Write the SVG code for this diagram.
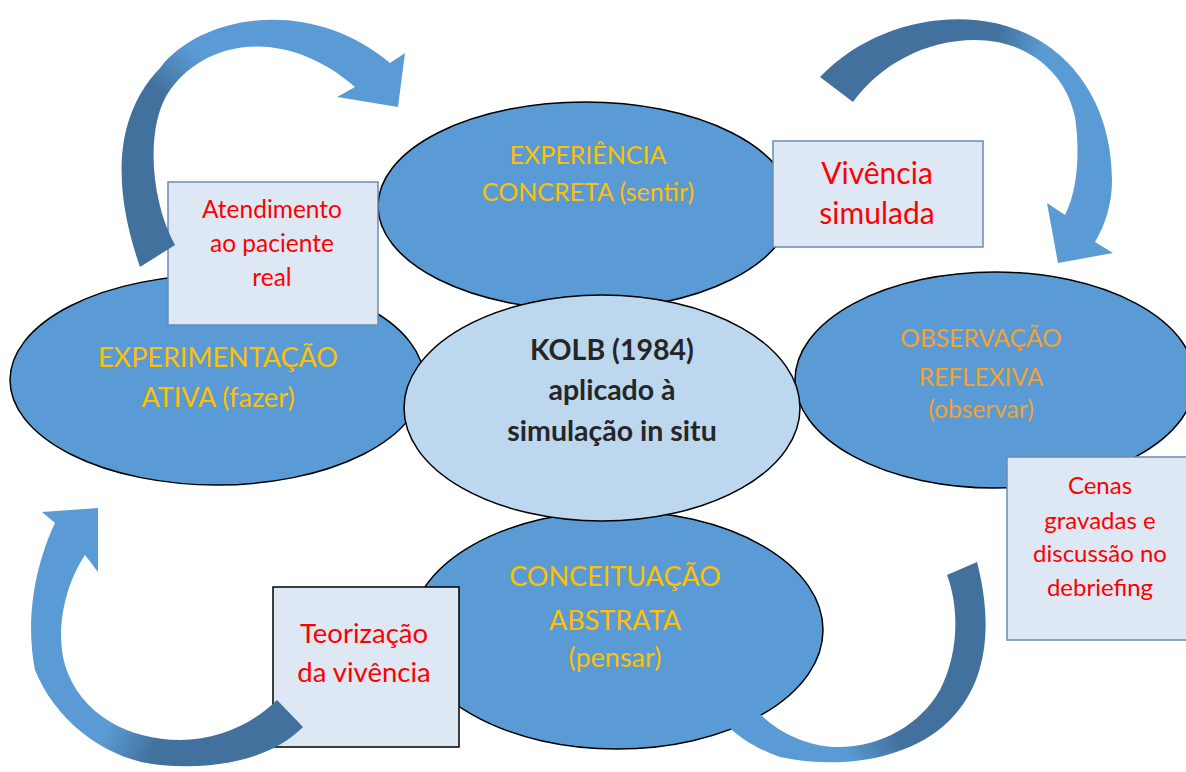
<svg xmlns="http://www.w3.org/2000/svg" width="1186" height="772" viewBox="0 0 1186 772">
<style>
.ell{fill:#5b9bd5;stroke:#000;stroke-width:1.5}
.ctr{fill:#bdd7ee;stroke:#000;stroke-width:1.5}
.box{fill:#dde8f4;stroke:#6a8bb5;stroke-width:1.5}
.boxk{fill:#dde8f4;stroke:#000;stroke-width:1.5}
.t{font-family:Lato,"Liberation Sans",sans-serif;text-anchor:middle}
.y{fill:#ffc000}
.o{fill:#f2a233}
.r{fill:#ff0000}
.k{fill:#262626;font-weight:bold}
</style>
<defs>
<linearGradient id="g1" gradientUnits="userSpaceOnUse" x1="150" y1="250" x2="330" y2="40">
<stop offset="0" stop-color="#41719c"/><stop offset="0.45" stop-color="#41719c"/><stop offset="0.65" stop-color="#5b9bd5"/><stop offset="1" stop-color="#5b9bd5"/>
</linearGradient>
<linearGradient id="g2" gradientUnits="userSpaceOnUse" x1="840" y1="80" x2="1100" y2="160">
<stop offset="0" stop-color="#41719c"/><stop offset="0.5" stop-color="#41719c"/><stop offset="0.68" stop-color="#5b9bd5"/><stop offset="1" stop-color="#5b9bd5"/>
</linearGradient>
<linearGradient id="g3" gradientUnits="userSpaceOnUse" x1="290" y1="715" x2="50" y2="600">
<stop offset="0" stop-color="#41719c"/><stop offset="0.4" stop-color="#41719c"/><stop offset="0.6" stop-color="#5b9bd5"/><stop offset="1" stop-color="#5b9bd5"/>
</linearGradient>
<linearGradient id="g4" gradientUnits="userSpaceOnUse" x1="975" y1="600" x2="740" y2="740">
<stop offset="0" stop-color="#41719c"/><stop offset="0.5" stop-color="#41719c"/><stop offset="0.7" stop-color="#5b9bd5"/><stop offset="1" stop-color="#5b9bd5"/>
</linearGradient>
</defs>

<g id="ativa"><ellipse class="ell" cx="217" cy="380" rx="207" ry="105"/>
<text class="t y" font-size="27" x="218" y="367">EXPERIMENTAÇÃO</text>
<text class="t y" font-size="27" x="218" y="407">ATIVA (fazer)</text></g>

<g id="reflexiva"><ellipse class="ell" cx="995" cy="380" rx="200" ry="108"/>
<text class="t o" font-size="24.5" x="981" y="347">OBSERVAÇÃO</text>
<text class="t o" font-size="24.5" x="981" y="386">REFLEXIVA</text>
<text class="t o" font-size="24.5" x="981" y="418">(observar)</text></g>

<g id="concreta"><ellipse class="ell" cx="585" cy="206" rx="207" ry="104"/>
<text class="t y" font-size="25" x="588" y="164">EXPERIÊNCIA</text>
<text class="t y" font-size="25" x="588" y="201">CONCRETA (sentir)</text></g>

<g id="abstrata"><ellipse class="ell" cx="617" cy="630" rx="206" ry="119"/>
<text class="t y" font-size="27" x="615" y="586">CONCEITUAÇÃO</text>
<text class="t y" font-size="27" x="615" y="630">ABSTRATA</text>
<text class="t y" font-size="27" x="615" y="667">(pensar)</text></g>

<g id="kolb"><ellipse class="ctr" cx="602" cy="408" rx="198" ry="113"/>
<text class="t k" font-size="28.5" x="612" y="360">KOLB (1984)</text>
<text class="t k" font-size="28.5" x="612" y="400">aplicado à</text>
<text class="t k" font-size="28.5" x="612" y="441">simulação in situ</text></g>

<g id="box-atendimento"><rect class="box" x="168" y="182" width="210" height="143"/>
<text class="t r" font-size="24.5" x="272" y="218">Atendimento</text>
<text class="t r" font-size="24.5" x="272" y="252">ao paciente</text>
<text class="t r" font-size="24.5" x="272" y="286">real</text></g>

<g id="box-vivencia"><rect class="box" x="773" y="141" width="210" height="106"/>
<text class="t r" font-size="30" x="877" y="184">Vivência</text>
<text class="t r" font-size="30" x="877" y="224">simulada</text></g>

<g id="box-cenas"><rect class="box" x="1007" y="457" width="185" height="183"/>
<text class="t r" font-size="24" x="1100" y="494">Cenas</text>
<text class="t r" font-size="24" x="1100" y="529">gravadas e</text>
<text class="t r" font-size="24" x="1100" y="562">discussão no</text>
<text class="t r" font-size="24" x="1100" y="596">debriefing</text></g>

<g id="box-teorizacao"><rect class="boxk" x="273" y="587" width="186" height="160"/>
<text class="t r" font-size="27.5" x="364" y="643">Teorização</text>
<text class="t r" font-size="27.5" x="364" y="682">da vivência</text></g>

<g id="connectors">
<path fill="url(#g1)" d="M140,267 C115,195 110,120 160,68 C200,15 310,-5 390,63 L405,53 L398,107 L337,97 L355,87 C290,30 210,35 170,90 C145,125 150,200 175,245 Z"/>
<path fill="url(#g2)" d="M820,77 C860,35 920,15 975,20 C1060,28 1112,95 1112,180 C1112,205 1105,225 1095,242 L1113,253 L1058,263 L1047,203 L1065,215 C1078,190 1080,150 1075,117 C1065,70 1025,40 975,40 C925,40 880,65 853,102 Z"/>
<path fill="url(#g3)" d="M98,508 L98,572 L85,555 C65,585 55,630 65,665 C80,715 130,740 180,740 C220,740 255,722 277,700 L303,727 C270,760 215,770 160,765 C105,760 55,720 35,670 C25,620 35,565 55,523 L42,512 Z"/>
<path fill="url(#g4)" d="M977,562 C992,620 990,680 950,720 C910,760 840,770 780,757 C760,750 742,740 730,728 L705,725 L717,683 L768,697 L750,703 C770,728 800,745 835,747 C880,748 920,725 940,690 C958,655 960,610 947,575 Z"/>
</g>
</svg>
